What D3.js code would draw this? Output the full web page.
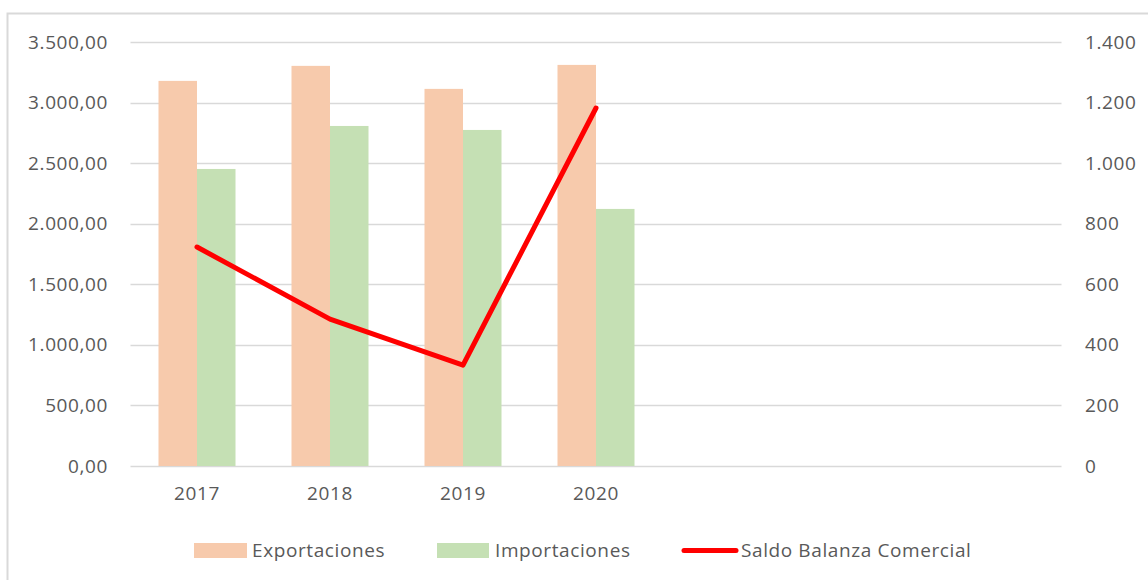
<!DOCTYPE html>
<html>
<head>
<meta charset="utf-8">
<script src="https://cdn.jsdelivr.net/npm/d3@7"></script>
<style>
  body { margin: 0; background: #fff; }
  svg text { font-family: "Open Sans", sans-serif; fill: #595959; letter-spacing: 0.6px; }
</style>
</head>
<body>
<div id="chart"></div>
<script>
var width = 1148;
var height = 580;

// data
var categories = ["2017", "2018", "2019", "2020", " ", "  ", "   "];
var exportaciones = [3179, 3303, 3113, 3311];
var importaciones = [2452, 2807, 2774, 2122];
var saldo = [723, 485, 333, 1182];
var leftTicks = [0, 500, 1000, 1500, 2000, 2500, 3000, 3500];
var rightTicks = [0, 200, 400, 600, 800, 1000, 1200, 1400];

var colExp = "#f7caac";
var colImp = "#c5e0b4";
var colLine = "#ff0000";
var fs = "19px";

var svg = d3.select("#chart").append("svg")
  .attr("width", width)
  .attr("height", height);

svg.append("rect")
  .attr("x", 7.5).attr("y", 13.5)
  .attr("width", 1160).attr("height", 600)
  .attr("fill", "#fff")
  .attr("stroke", "#d9d9d9")
  .attr("stroke-width", 2);

var x = d3.scaleBand().domain(categories).range([130.5, 1061.5]);
var yL = d3.scaleLinear().domain([0, 3500]).range([466, 42]);
var yR = d3.scaleLinear().domain([0, 1400]).range([466, 42]);
var barW = 38.5;

var fmtL = function (v) {
  return d3.format(",.2f")(v).replace(/,/g, "#").replace(/\./g, ",").replace(/#/g, ".");
};
var fmtR = function (v) {
  return d3.format(",")(v).replace(/,/g, ".");
};

// gridlines
svg.append("g").selectAll("line").data(leftTicks).enter().append("line")
  .attr("x1", 130.5).attr("x2", 1061.5)
  .attr("y1", function (d) { return Math.round(yL(d)) + 0.5; })
  .attr("y2", function (d) { return Math.round(yL(d)) + 0.5; })
  .attr("stroke", "#d9d9d9").attr("stroke-width", 1.5);

// left axis
var axL = svg.append("g").attr("transform", "translate(130,0)")
  .call(d3.axisLeft(yL).tickValues(leftTicks).tickFormat(fmtL).tickSize(0).tickPadding(22));
axL.select(".domain").remove();
axL.selectAll("text").style("font-size", fs).attr("fill", "#595959");

// right axis
var axR = svg.append("g").attr("transform", "translate(1062,0)")
  .call(d3.axisRight(yR).tickValues(rightTicks).tickFormat(fmtR).tickSize(0).tickPadding(23));
axR.select(".domain").remove();
axR.selectAll("text").style("font-size", fs).attr("fill", "#595959");

// x axis labels
var axX = svg.append("g").attr("transform", "translate(0,466)")
  .call(d3.axisBottom(x).tickSize(0).tickPadding(21));
axX.select(".domain").remove();
axX.selectAll("text").style("font-size", fs).attr("fill", "#595959");

// bars
var bars = svg.append("g");
bars.selectAll(".exp").data(exportaciones).enter().append("rect")
  .attr("class", "exp")
  .attr("x", function (d, i) { return x(categories[i]) + x.bandwidth() / 2 - barW; })
  .attr("y", function (d) { return yL(d); })
  .attr("width", barW)
  .attr("height", function (d) { return yL(0) - yL(d); })
  .attr("fill", colExp);
bars.selectAll(".imp").data(importaciones).enter().append("rect")
  .attr("class", "imp")
  .attr("x", function (d, i) { return x(categories[i]) + x.bandwidth() / 2; })
  .attr("y", function (d) { return yL(d); })
  .attr("width", barW)
  .attr("height", function (d) { return yL(0) - yL(d); })
  .attr("fill", colImp);

// line
var line = d3.line()
  .x(function (d, i) { return x(categories[i]) + x.bandwidth() / 2; })
  .y(function (d) { return yR(d); });
svg.append("path")
  .datum(saldo)
  .attr("d", line)
  .attr("fill", "none")
  .attr("stroke", colLine)
  .attr("stroke-width", 5)
  .attr("stroke-linecap", "round")
  .attr("stroke-linejoin", "round");

// legend
var lg = svg.append("g").attr("transform", "translate(0,550)");
lg.append("rect").attr("x", 194).attr("y", -7).attr("width", 53).attr("height", 15).attr("fill", colExp);
lg.append("text").attr("x", 252).attr("y", 7).style("font-size", fs).text("Exportaciones");
lg.append("rect").attr("x", 437).attr("y", -7).attr("width", 52).attr("height", 15).attr("fill", colImp);
lg.append("text").attr("x", 495).attr("y", 7).style("font-size", fs).text("Importaciones");
lg.append("line").attr("x1", 684).attr("x2", 736).attr("y1", 0.5).attr("y2", 0.5)
  .attr("stroke", colLine).attr("stroke-width", 5).attr("stroke-linecap", "round");
lg.append("text").attr("x", 741).attr("y", 7).style("font-size", fs).text("Saldo Balanza Comercial");
</script>
</body>
</html>
